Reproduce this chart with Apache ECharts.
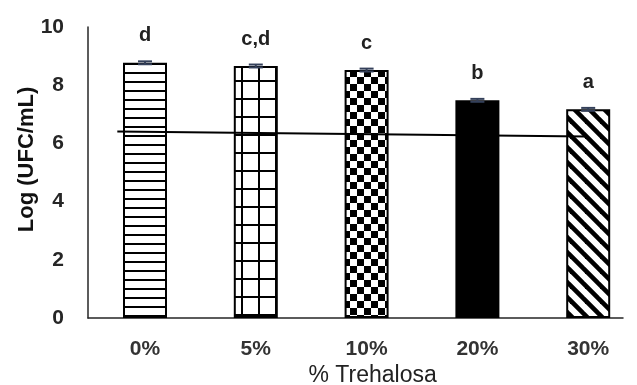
<!DOCTYPE html>
<html>
<head>
<meta charset="utf-8">
<script src="https://cdn.jsdelivr.net/npm/echarts@6/dist/echarts.min.js"></script>
<style>
html,body{margin:0;padding:0;background:#fff;}
#chart{width:637px;height:385px;}
</style>
</head>
<body>
<div id="chart"></div>
<script>
// ---- data ----
var categories = ['0%', '5%', '10%', '20%', '30%'];
var values = [8.77, 8.66, 8.52, 7.48, 7.17];
var errors = [0.05, 0.05, 0.05, 0.05, 0.05];
var letters = ['d', 'c,d', 'c', 'b', 'a'];
var yTicks = [0, 2, 4, 6, 8, 10];
var lineX = [-0.25, 3.98];
var lineY = [6.41, 6.24];

// ---- patterns ----
function mk(w, h, draw) {
  var c = document.createElement('canvas');
  c.width = w; c.height = h;
  var g = c.getContext('2d');
  g.fillStyle = '#fff'; g.fillRect(0, 0, w, h);
  g.fillStyle = '#000'; g.strokeStyle = '#000';
  draw(g, w, h);
  return { image: c, repeat: 'repeat' };
}
var patHoriz = mk(8, 9, function (g, w, h) { g.fillRect(0, 0, w, 2); });
var patGrid = mk(17, 18, function (g, w, h) { g.fillRect(3, 0, 2, h); g.fillRect(0, 8, w, 2); });
var patCheck = mk(14, 14, function (g, w, h) { g.fillRect(0, 0, 7, 7); g.fillRect(7, 7, 7, 7); });
var patDiag = mk(15, 15, function (g, w, h) {
  g.lineWidth = 4.6;
  for (var k = -1; k <= 1; k++) {
    g.beginPath(); g.moveTo(k * w - 2, -2); g.lineTo(k * w + w + 2, h + 2); g.stroke();
  }
});
var fills = [patHoriz, patGrid, patCheck, '#000', patDiag];

var chart = echarts.init(document.getElementById('chart'), null, { renderer: 'canvas' });
var font = 'Liberation Sans, Arial, sans-serif';

var option = {
  animation: false,
  backgroundColor: '#fff',
  grid: [
    { left: 89.6, width: 554, top: 27, height: 291, outerBoundsMode: 'none', containLabel: false },
    { left: 88, width: 535, top: 27, height: 291, outerBoundsMode: 'none', containLabel: false }
  ],
  xAxis: [
    {
      type: 'category', gridIndex: 0, data: categories,
      axisLine: { show: false }, axisTick: { show: false },
      axisLabel: { color: '#333', fontFamily: font, fontSize: 21, fontWeight: 'bold', margin: 21 },
      name: '% Trehalosa', nameLocation: 'middle', nameGap: 46, nameMoveOverlap: false,
      nameTextStyle: { color: '#222', fontFamily: font, fontSize: 23, padding: [0, 0, 0, 12] }
    },
    {
      type: 'value', gridIndex: 1, min: 0, max: 1,
      axisLine: { show: true, lineStyle: { color: '#262626', width: 1.5 } },
      axisTick: { show: false }, axisLabel: { show: false }, splitLine: { show: false }
    },
    {
      type: 'value', gridIndex: 0, min: -0.5, max: 4.5, show: false
    }
  ],
  yAxis: [
    { type: 'value', gridIndex: 0, min: 0, max: 10, show: false },
    {
      type: 'value', gridIndex: 1, min: 0, max: 10, interval: 2,
      axisLine: { show: true, lineStyle: { color: '#262626', width: 1.5 } },
      axisTick: { show: false }, splitLine: { show: false },
      axisLabel: {
        color: '#262626', fontFamily: font, fontSize: 21, fontWeight: 'bold', margin: 24,
        formatter: function (v) { return yTicks.indexOf(v) >= 0 ? String(v) : ''; }
      },
      name: 'Log (UFC/mL)', nameLocation: 'middle', nameGap: 50, nameMoveOverlap: false,
      nameTextStyle: { color: '#111', fontFamily: font, fontSize: 22, fontWeight: 'bold', padding: [0, 0, 0, 26] }
    }
  ],
  series: [
    {
      type: 'bar', xAxisIndex: 0, yAxisIndex: 0, barWidth: 44,
      data: values.map(function (v, i) {
        return { value: v, itemStyle: { color: fills[i], borderColor: '#000', borderWidth: 2 } };
      }),
      label: {
        show: true, position: 'top', distance: 17,
        fontFamily: font, fontSize: 20, fontWeight: 'bold', color: '#222',
        formatter: function (p) { return letters[p.dataIndex]; }
      },
      z: 2
    },
    {
      type: 'custom', xAxisIndex: 0, yAxisIndex: 0,
      data: values.map(function (v, i) { return [i, v, errors[i]]; }),
      renderItem: function (params, api) {
        var x = api.value(0), v = api.value(1), e = api.value(2);
        var top = api.coord([x, v + e]);
        var bot = api.coord([x, v - e]);
        var hw = 7;
        var st = { stroke: '#34405a', lineWidth: 2 };
        return {
          type: 'group', children: [
            { type: 'line', shape: { x1: top[0], y1: top[1], x2: bot[0], y2: bot[1] }, style: st },
            { type: 'line', shape: { x1: top[0] - hw, y1: top[1], x2: top[0] + hw, y2: top[1] }, style: st },
            { type: 'line', shape: { x1: bot[0] - hw, y1: bot[1], x2: bot[0] + hw, y2: bot[1] }, style: st }
          ]
        };
      },
      z: 4
    },
    {
      type: 'line', xAxisIndex: 2, yAxisIndex: 0,
      data: lineX.map(function (x, i) { return [x, lineY[i]]; }),
      showSymbol: false, symbol: 'none',
      lineStyle: { color: '#000', width: 2 },
      z: 5
    }
  ]
};
chart.setOption(option);
</script>
</body>
</html>
